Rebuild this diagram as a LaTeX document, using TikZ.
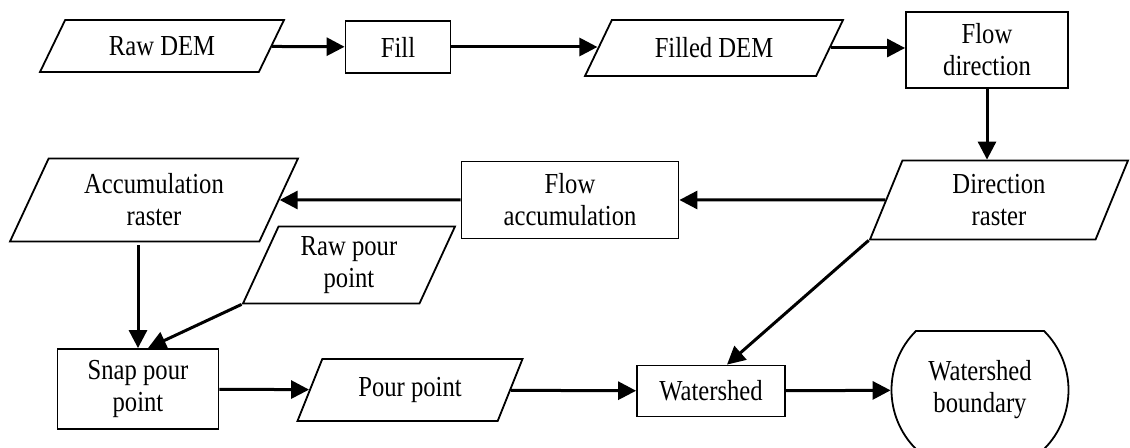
\documentclass[tikz,border=0pt]{standalone}
\usepackage{fontspec}
\setmainfont{Liberation Serif}[FakeStretch=0.85]
\usetikzlibrary{shapes.geometric,shapes.misc,arrows.meta}

\begin{document}
\begin{tikzpicture}[
  x=0.5pt, y=-0.5pt,
  font=\fontsize{14.5}{16}\selectfont,
  box/.style={draw, line width=0.9pt, align=center, inner sep=2pt},
  data/.style={box, trapezium, trapezium left angle=#1,
               trapezium right angle={180-#1}, trapezium stretches body=true},
  term/.style={box, rounded rectangle, rounded rectangle arc length=90},
  arrow/.style={-{Triangle[length=9pt,width=9pt]}, line width=1.5pt}
]
  \useasboundingbox (0,0) rectangle (1130,448);

  \node[data=47.3, minimum width=122pt, minimum height=26pt]  (raw)     at (162,46)  {Raw DEM};
  \node[box, minimum width=52.5pt, minimum height=26pt]       (fill)    at (398,47)  {Fill};
  \node[data=46.6, minimum width=129pt, minimum height=28pt]  (filled)  at (714,48)  {Filled DEM};
  \node[box, minimum width=81pt, minimum height=38pt]         (flowdir) at (987,50)  {Flow\\direction};
  \node[data=61.4, minimum width=129pt, minimum height=39.5pt] (dirras) at (999,200) {Direction\\raster};
  \node[box, minimum width=108.5pt, minimum height=38.5pt]    (flowacc) at (570,200) {Flow\\accumulation};
  \node[data=57.4, minimum width=144pt, minimum height=41.5pt] (accras) at (154,200) {Accumulation\\raster};
  \node[data=61.4, minimum width=106pt, minimum height=38.5pt] (rawpour) at (349,265) {Raw pour\\point};
  \node[box, minimum width=80.5pt, minimum height=40pt]       (snap)    at (138,389) {Snap pour\\point};
  \node[data=53.4, minimum width=112.5pt, minimum height=31pt] (pour)   at (410,390) {Pour point};
  \node[box, minimum width=74pt, minimum height=25.5pt]       (ws)      at (711,391) {Watershed};
  \node[term, minimum width=92.5pt, minimum height=59pt]      (wsb)     at (980,390) {Watershed\\boundary};

  \draw[arrow] (raw) -- (fill);
  \draw[arrow] (fill.east) -- (fill.east -| filled.west);
  \draw[arrow] (filled.east) -- (filled.east -| flowdir.west);
  \draw[arrow] (flowdir.south) -- (flowdir.south |- dirras.north);
  \draw[arrow] (dirras) -- (flowacc);
  \draw[arrow] (flowacc) -- (accras);
  \draw[arrow] ([yshift=-1.5pt]snap.north |- accras.south) -- (snap.north);
  \draw[arrow] (rawpour.bottom left corner) -- ([xshift=5pt]snap.north);
  \draw[arrow] (snap) -- (pour);
  \draw[arrow] (pour) -- (ws);
  \draw[arrow] (dirras.bottom left corner) -- ([xshift=8pt]ws.north);
  \draw[arrow] (ws) -- (wsb);
\end{tikzpicture}
\end{document}
